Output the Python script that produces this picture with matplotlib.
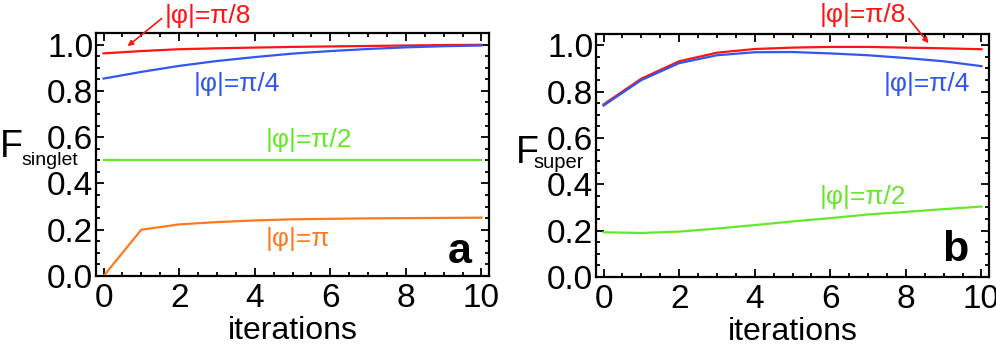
import numpy as np
import matplotlib
matplotlib.use("Agg")
import matplotlib.pyplot as plt
from matplotlib.ticker import MultipleLocator

plt.rcParams.update({"font.family": ["Liberation Sans", "DejaVu Sans"], "font.size": 19})

C = {"p8": "#ff1414", "p4": "#3355f0", "p2": "#66e82a", "pi": "#ff7a1e"}

it = np.arange(11)

# panel a: singlet fidelity
sing_p8 = [0.962, 0.972, 0.980, 0.984, 0.987, 0.990, 0.992, 0.994, 0.996, 0.998, 0.999]
sing_p4 = [0.853, 0.882, 0.908, 0.929, 0.946, 0.961, 0.972, 0.981, 0.988, 0.993, 0.996]
sing_p2 = [0.5] * 11
sing_pi = [0.0, 0.200, 0.223, 0.233, 0.240, 0.245, 0.247, 0.249, 0.250, 0.251, 0.252]

# panel b: superposition fidelity
sup_p8 = [0.745, 0.856, 0.931, 0.968, 0.984, 0.990, 0.993, 0.993, 0.990, 0.987, 0.983]
sup_p4 = [0.740, 0.850, 0.923, 0.957, 0.970, 0.971, 0.965, 0.957, 0.945, 0.931, 0.910]
sup_p2 = [0.193, 0.190, 0.196, 0.209, 0.224, 0.240, 0.254, 0.270, 0.281, 0.293, 0.304]

fig = plt.figure(figsize=(9.96, 3.49), dpi=100)
axA = fig.add_axes([0.0964, 0.2092, 0.3946, 0.6962])
axB = fig.add_axes([0.5984, 0.2063, 0.3946, 0.6971])

def estilo(ax):
    ax.set_xlim(-0.2, 10.2); ax.set_ylim(0, 1.05)
    ax.xaxis.set_major_locator(MultipleLocator(2)); ax.xaxis.set_minor_locator(MultipleLocator(0.5))
    ax.yaxis.set_major_locator(MultipleLocator(0.2)); ax.yaxis.set_minor_locator(MultipleLocator(0.05))
    ax.yaxis.set_major_formatter(matplotlib.ticker.FormatStrFormatter("%.1f"))
    ax.tick_params(which="both", direction="in", top=True, right=True, width=1.3, labelsize=24)
    ax.tick_params(which="major", length=5.5)
    ax.tick_params(which="minor", length=2.8)
    ax.tick_params(axis="x", pad=5)
    ax.tick_params(axis="y", pad=2)
    for s in ax.spines.values():
        s.set_linewidth(1.6)
    ax.set_xlabel("iterations", fontsize=23, labelpad=1.5)

lw = 1.6
axA.plot(it, sing_p8, color=C["p8"], lw=lw)
axA.plot(it, sing_p4, color=C["p4"], lw=lw)
axA.plot(it, sing_p2, color=C["p2"], lw=lw)
axA.plot(it, sing_pi, color=C["pi"], lw=lw)
estilo(axA)
tk = dict(fontsize=19, ha="center", va="center")
axA.annotate("|φ|=π/8", xy=(0.635, 0.993), xytext=(2.75, 1.122), color=C["p8"],
             arrowprops=dict(arrowstyle="-|>", color=C["p8"], lw=1.2, shrinkA=0, shrinkB=0,
                             mutation_scale=8, relpos=(0, 0.5)),
             annotation_clip=False, **tk)
axA.text(3.52, 0.829, "|φ|=π/4", color=C["p4"], **tk)
axA.text(5.42, 0.587, "|φ|=π/2", color=C["p2"], **tk)
axA.text(5.13, 0.160, "|φ|=π", color=C["pi"], **tk)
axA.text(9.42, 0.104, "a", fontsize=31, fontweight="bold", ha="center", va="center")

axB.plot(it, sup_p8, color=C["p8"], lw=lw)
axB.plot(it, sup_p4, color=C["p4"], lw=lw)
axB.plot(it, sup_p2, color=C["p2"], lw=lw)
estilo(axB)
axB.annotate("|φ|=π/8", xy=(8.6, 1.009), xytext=(6.86, 1.13), color=C["p8"],
             arrowprops=dict(arrowstyle="-|>", color=C["p8"], lw=1.2, shrinkA=0, shrinkB=0,
                             mutation_scale=8, relpos=(1, 0.5)),
             annotation_clip=False, **tk)
axB.text(8.55, 0.835, "|φ|=π/4", color=C["p4"], **tk)
axB.text(6.86, 0.346, "|φ|=π/2", color=C["p2"], **tk)
axB.text(9.31, 0.117, "b", fontsize=31, fontweight="bold", ha="center", va="center")

# etiquetas y: F grande con subíndice
fig.text(0.0, 0.550, "F", fontsize=27, ha="left", va="baseline")
fig.text(0.021, 0.527, "singlet", fontsize=14, ha="left", va="baseline")
fig.text(0.518, 0.532, "F", fontsize=27, ha="left", va="baseline")
fig.text(0.536, 0.519, "super", fontsize=14.5, ha="left", va="baseline")

fig.savefig("out.png", dpi=100)
